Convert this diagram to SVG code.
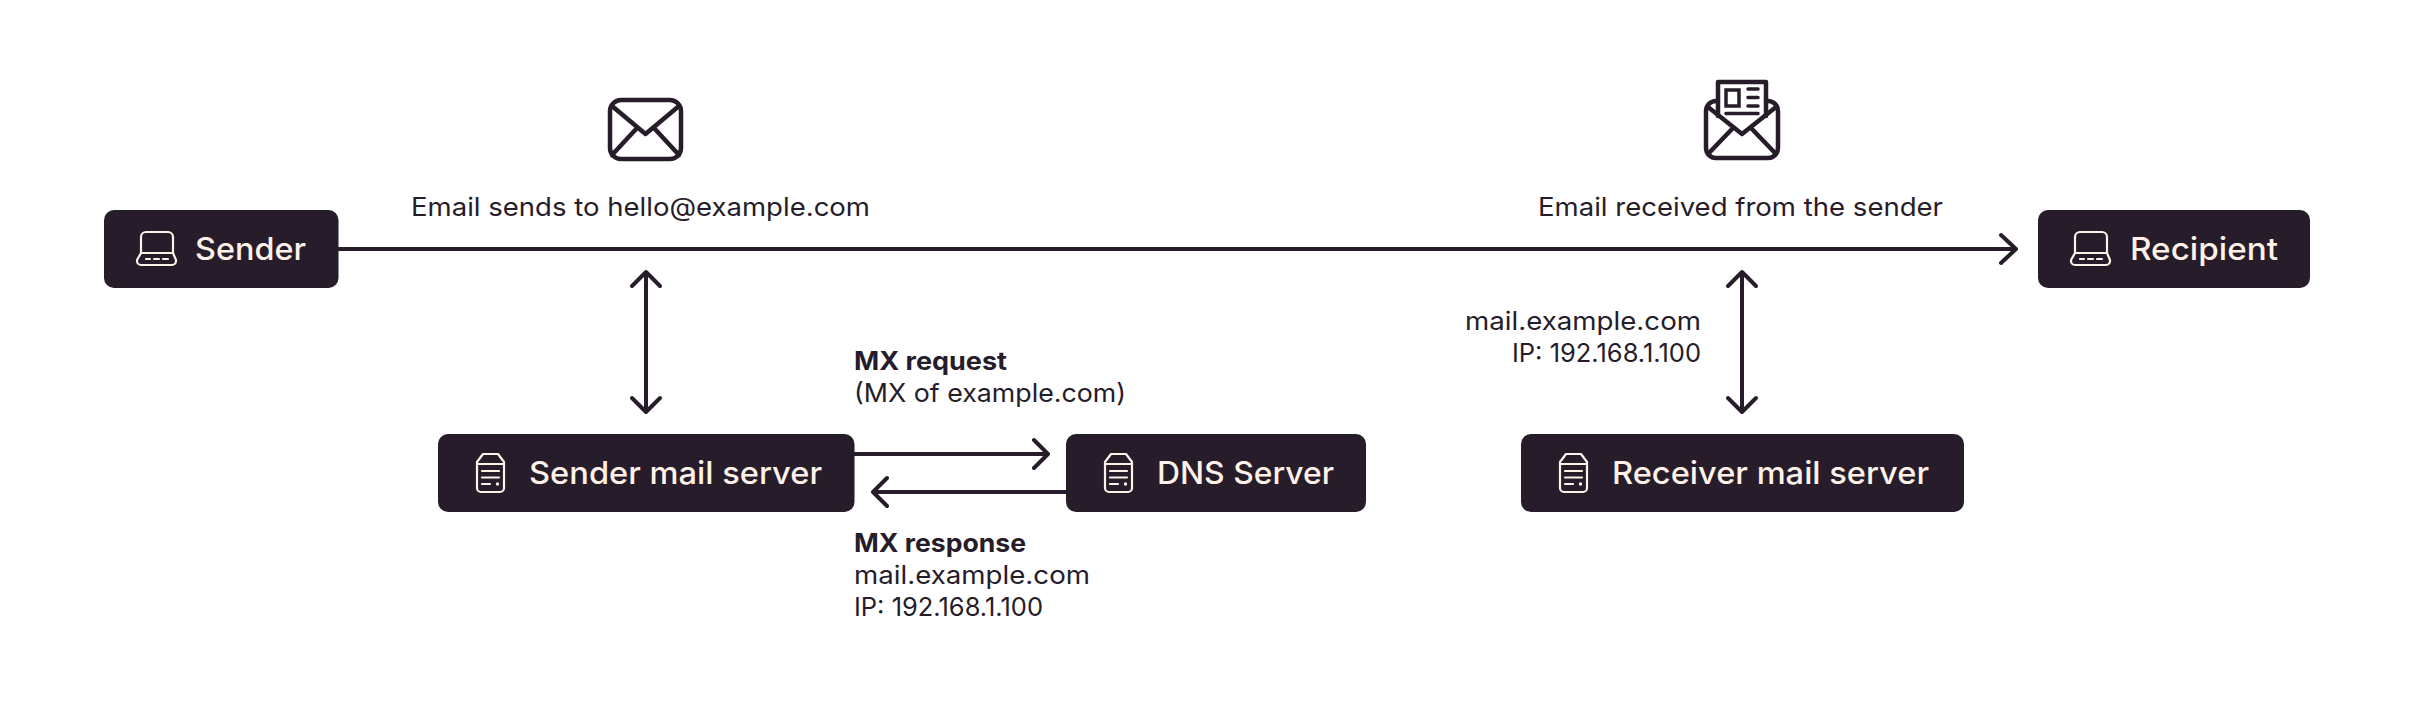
<svg xmlns="http://www.w3.org/2000/svg" width="2432" height="702" viewBox="0 0 2432 702">
<style>
text{font-family:"Inter","Liberation Sans",sans-serif;}
.t{font-size:25.5px;fill:#261c2a;font-weight:400;}
.b{font-size:25.5px;fill:#261c2a;font-weight:700;}
.n{font-size:31.5px;fill:#fdf1e8;font-weight:500;}
.box{fill:#261c2a;}
.ln{fill:none;stroke:#261c2a;stroke-width:4;stroke-linecap:round;stroke-linejoin:round;}
.ic{fill:none;stroke:#261c2a;stroke-width:4.5;stroke-linecap:round;stroke-linejoin:round;}
.ic2{fill:none;stroke:#261c2a;stroke-width:3.5;stroke-linecap:round;}
.ni{fill:none;stroke:#fdf1e8;stroke-width:2.2;stroke-linecap:round;stroke-linejoin:round;}
</style>
<defs>
<g id="laptop">
<path class="ni" d="M141 253V237a5 5 0 0 1 5-5H168a5 5 0 0 1 5 5V253"/>
<path class="ni" d="M141 253H173L176 260V261a4 4 0 0 1-4 4H141a4 4 0 0 1-4-4V260Z"/>
<path class="ni" d="M146 259H150M154 259H159M163 259H168"/>
</g>
<g id="server">
<path class="ni" d="M483 454H498L504 462V488a4 4 0 0 1-4 4H481a4 4 0 0 1-4-4V462Z"/>
<path class="ni" d="M477 464H504M482 471H499M482 477.500H499M482 484H490"/>
<circle cx="497.500" cy="484" r="1.700" fill="#fdf1e8"/>
</g>
</defs>
<g id="connectors">
<path class="ln" d="M338 249H2015M2001 235L2016 249L2001 263"/>
<path class="ln" d="M646 273V412M632 286L646 272L660 286M632 398L646 412L660 398"/>
<path class="ln" d="M1742 273V412M1728 286L1742 272L1756 286M1728 398L1742 412L1756 398"/>
<path class="ln" d="M854 454H1047M1034 440L1048 454L1034 468"/>
<path class="ln" d="M1066 492H873M887 478L873 492L887 506"/>
</g>
<g id="node-sender">
<rect class="box" x="104" y="210" width="234.500" height="78" rx="10"/>
<use href="#laptop"/>
<text class="n" x="195" y="260" textLength="111" lengthAdjust="spacingAndGlyphs">Sender</text>
</g>
<g id="node-recipient">
<rect class="box" x="2038" y="210" width="272" height="78" rx="10"/>
<use href="#laptop" x="1934"/>
<text class="n" x="2130" y="260" textLength="148" lengthAdjust="spacingAndGlyphs">Recipient</text>
</g>
<g id="node-sender-mail-server">
<rect class="box" x="438" y="434" width="416.500" height="78" rx="10"/>
<use href="#server"/>
<text class="n" x="529" y="484" textLength="293" lengthAdjust="spacingAndGlyphs">Sender mail server</text>
</g>
<g id="node-dns-server">
<rect class="box" x="1066" y="434" width="300" height="78" rx="10"/>
<use href="#server" x="628"/>
<text class="n" x="1157" y="484" textLength="177" lengthAdjust="spacingAndGlyphs">DNS Server</text>
</g>
<g id="node-receiver-mail-server">
<rect class="box" x="1521" y="434" width="443" height="78" rx="10"/>
<use href="#server" x="1083"/>
<text class="n" x="1612" y="484" textLength="317" lengthAdjust="spacingAndGlyphs">Receiver mail server</text>
</g>
<g id="icon-envelope">
<rect class="ic" x="610" y="100" width="71" height="59" rx="11"/>
<path class="ic" d="M612 106L645.500 134L679 106M612 155L637 128M679 155L654 128"/>
</g>
<g id="icon-open-envelope">
<path class="ic" d="M1718 101H1716A10 10 0 0 0 1706 111V148A10 10 0 0 0 1716 158H1768A10 10 0 0 0 1778 148V111A10 10 0 0 0 1768 101H1766"/>
<path class="ic" d="M1708 107L1742 134L1776 107M1708 154L1733 128M1776 154L1751 128"/>
<path class="ic" d="M1718 116V82H1766V116"/>
<rect x="1726" y="90" width="13" height="16" fill="none" stroke="#261c2a" stroke-width="3.500"/>
<path class="ic2" d="M1748 89H1758M1748 97.500H1758M1748 106H1758M1726 113.500H1758"/>
</g>
<g id="labels">
<text class="t" x="411" y="216" textLength="459" lengthAdjust="spacingAndGlyphs">Email sends to hello@example.com</text>
<text class="t" x="1538" y="216" textLength="405" lengthAdjust="spacingAndGlyphs">Email received from the sender</text>
<text class="b" x="854" y="370" textLength="153" lengthAdjust="spacingAndGlyphs">MX request</text>
<text class="t" x="854" y="402" textLength="272" lengthAdjust="spacingAndGlyphs">(MX of example.com)</text>
<text class="b" x="854" y="552" textLength="172" lengthAdjust="spacingAndGlyphs">MX response</text>
<text class="t" x="854" y="584" textLength="236" lengthAdjust="spacingAndGlyphs">mail.example.com</text>
<text class="t" x="854" y="616" textLength="189" lengthAdjust="spacingAndGlyphs">IP: 192.168.1.100</text>
<text class="t" x="1465" y="330" textLength="236" lengthAdjust="spacingAndGlyphs">mail.example.com</text>
<text class="t" x="1512" y="362" textLength="189" lengthAdjust="spacingAndGlyphs">IP: 192.168.1.100</text>
</g>
</svg>
